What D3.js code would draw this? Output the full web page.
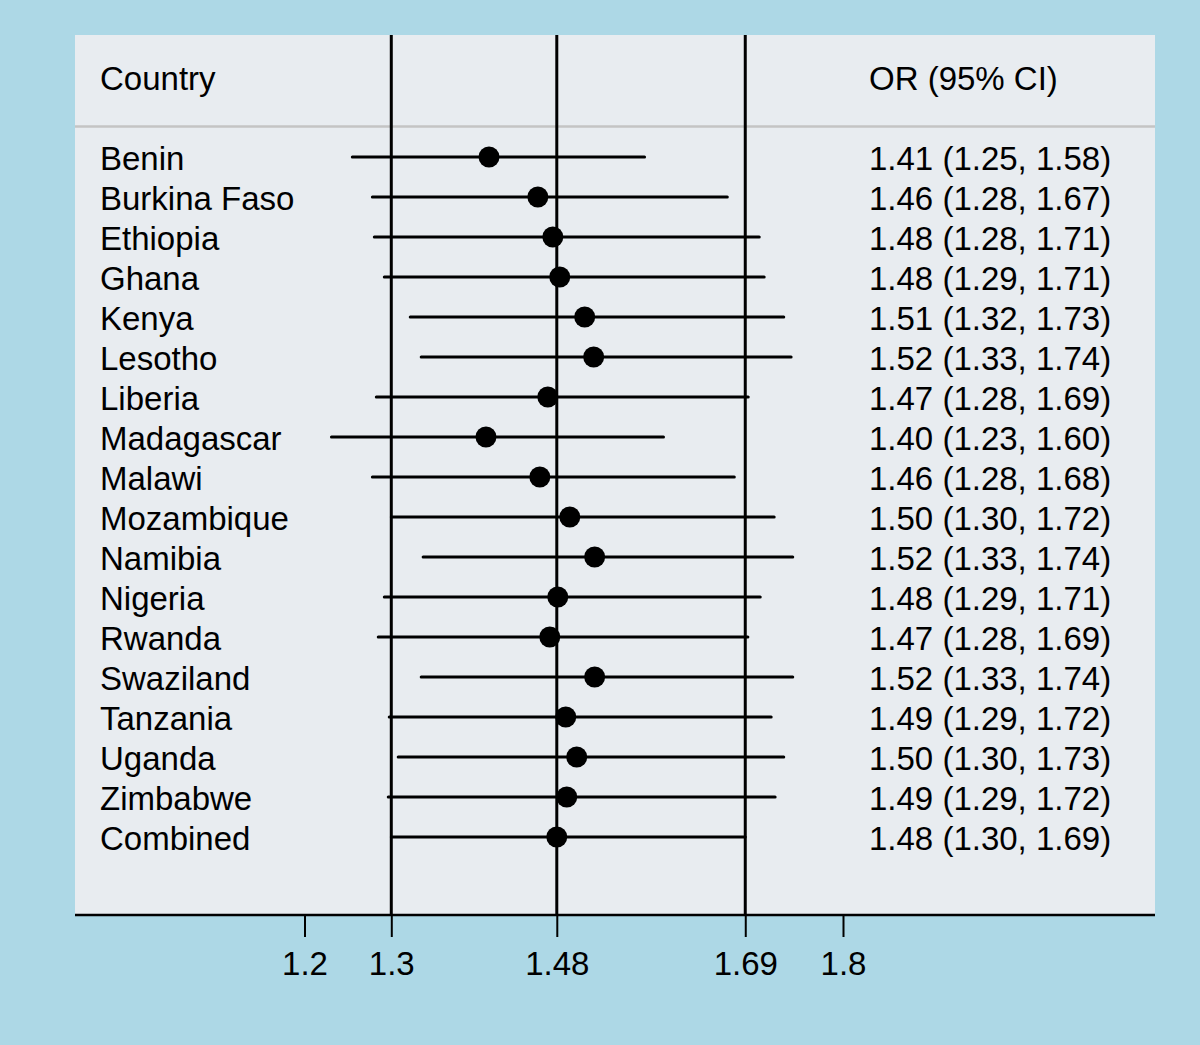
<!DOCTYPE html>
<html>
<head>
<meta charset="utf-8">
<script src="https://cdn.jsdelivr.net/npm/d3@7"></script>
<style>
  html, body { margin: 0; padding: 0; background: #add8e6; }
  svg { display: block; }
  text { font-family: "Liberation Sans", Arial, sans-serif; fill: #000; }
</style>
</head>
<body>
<svg id="chart" width="1200" height="1045"></svg>
<script>
// ---- data ----
const countries = ["Benin","Burkina Faso","Ethiopia","Ghana","Kenya","Lesotho","Liberia","Madagascar","Malawi","Mozambique","Namibia","Nigeria","Rwanda","Swaziland","Tanzania","Uganda","Zimbabwe","Combined"];
const orValues = [1.4056,1.4600,1.4767,1.4844,1.5122,1.5222,1.4711,1.4022,1.4622,1.4956,1.5233,1.4822,1.4733,1.5233,1.4911,1.5033,1.4922,1.4811];
const ciLower  = [1.2533,1.2756,1.2778,1.2889,1.3178,1.3300,1.2800,1.2300,1.2756,1.2967,1.3322,1.2889,1.2822,1.3300,1.2944,1.3044,1.2933,1.2967];
const ciUpper  = [1.5789,1.6711,1.7067,1.7122,1.7340,1.7422,1.6944,1.6000,1.6789,1.7233,1.7440,1.7078,1.6940,1.7440,1.7200,1.7340,1.7244,1.6911];
const tickValues = [1.2, 1.2967, 1.4811, 1.6911, 1.8];
const tickLabels = ["1.2","1.3","1.48","1.69","1.8"];
const refLines = [1.2967, 1.4811, 1.6911];
const headerLeft = "Country";
const headerRight = "OR (95% CI)";

// ---- layout ----
const svg = d3.select("#chart");
const panel = {x0: 75, x1: 1155, y0: 35, y1: 915};
const fontSize = 33;

const x = d3.scaleLinear().domain([1.2, 1.8]).range([304.5, 843]);
const y = d3.scalePoint().domain(countries).range([157, 837]);

const rows = countries.map((c, i) => ({c, or: orValues[i], lo: ciLower[i], hi: ciUpper[i]}));

// panel background
svg.append("rect")
  .attr("x", panel.x0).attr("y", panel.y0)
  .attr("width", panel.x1 - panel.x0).attr("height", panel.y1 - panel.y0)
  .attr("fill", "#e8ecf0");

// header separator
svg.append("line")
  .attr("x1", panel.x0).attr("x2", panel.x1)
  .attr("y1", 126.5).attr("y2", 126.5)
  .attr("stroke", "#c4c4c4").attr("stroke-width", 2.5);

// header texts
svg.append("text").attr("x", 100).attr("y", 90).attr("font-size", fontSize).text(headerLeft);
svg.append("text").attr("x", 869).attr("y", 90).attr("font-size", fontSize).text(headerRight);

// reference vertical lines
svg.selectAll("line.ref").data(refLines).join("line")
  .attr("class", "ref")
  .attr("x1", d => x(d)).attr("x2", d => x(d))
  .attr("y1", panel.y0).attr("y2", panel.y1)
  .attr("stroke", "#000").attr("stroke-width", 3);

// CI lines
svg.selectAll("line.ci").data(rows).join("line")
  .attr("class", "ci")
  .attr("x1", d => x(d.lo)).attr("x2", d => x(d.hi))
  .attr("y1", d => y(d.c)).attr("y2", d => y(d.c))
  .attr("stroke", "#000").attr("stroke-width", 3).attr("stroke-linecap", "round");

// points
svg.selectAll("circle.pt").data(rows).join("circle")
  .attr("class", "pt")
  .attr("cx", d => x(d.or)).attr("cy", d => y(d.c))
  .attr("r", 10.5).attr("fill", "#000");

// country labels
svg.selectAll("text.country").data(rows).join("text")
  .attr("class", "country")
  .attr("x", 100).attr("y", d => y(d.c) + 13)
  .attr("font-size", fontSize)
  .text(d => d.c);

// OR labels
const f = d3.format(".2f");
svg.selectAll("text.orl").data(rows).join("text")
  .attr("class", "orl")
  .attr("x", 869).attr("y", d => y(d.c) + 13)
  .attr("font-size", fontSize)
  .text(d => `${f(d.or)} (${f(d.lo)}, ${f(d.hi)})`);

// x axis
const axis = d3.axisBottom(x)
  .tickValues(tickValues)
  .tickFormat((d, i) => tickLabels[i])
  .tickSize(22).tickPadding(15);
const gAxis = svg.append("g").attr("transform", `translate(0,${panel.y1})`).call(axis);
gAxis.select(".domain").remove();
gAxis.selectAll(".tick line").attr("stroke", "#000").attr("stroke-width", 2);
gAxis.selectAll(".tick text").attr("font-size", fontSize)
  .attr("font-family", '"Liberation Sans", Arial, sans-serif').attr("fill", "#000");

// axis baseline
svg.append("line")
  .attr("x1", panel.x0).attr("x2", panel.x1)
  .attr("y1", panel.y1).attr("y2", panel.y1)
  .attr("stroke", "#000").attr("stroke-width", 2.5);
</script>
</body>
</html>
